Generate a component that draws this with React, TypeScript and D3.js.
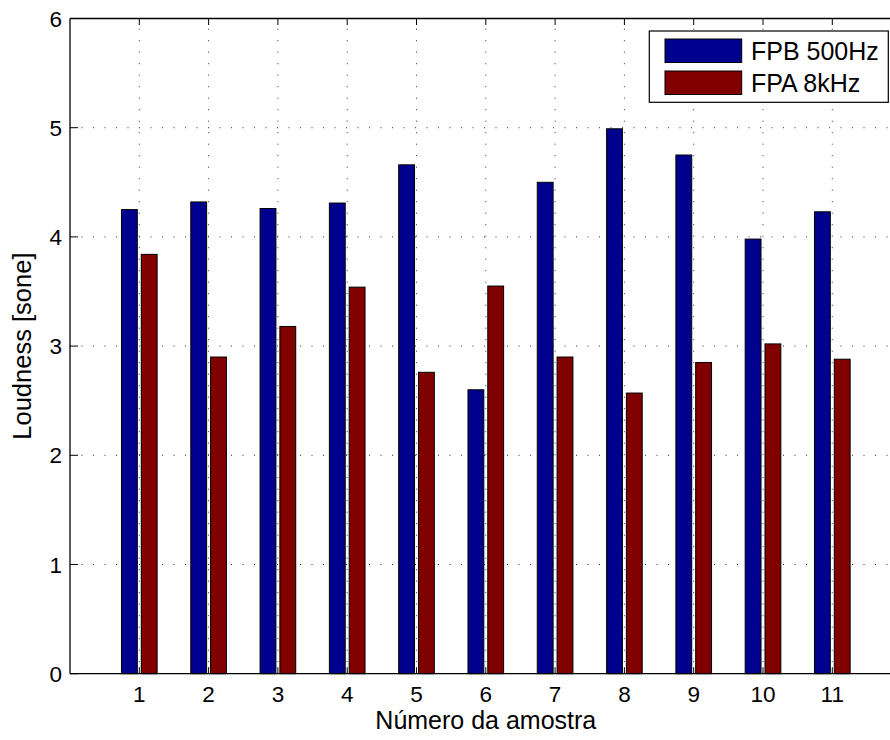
import React from "react";
import * as d3 from "d3";

// Sample numbers and the two filter series (loudness in sone)
const samples = [1, 2, 3, 4, 5, 6, 7, 8, 9, 10, 11];
const fpb500 = [4.25, 4.32, 4.26, 4.31, 4.66, 2.6, 4.5, 4.99, 4.75, 3.98, 4.23];
const fpa8k = [3.84, 2.9, 3.18, 3.54, 2.76, 3.55, 2.9, 2.57, 2.85, 3.02, 2.88];
const seriesNames = ["FPB 500Hz", "FPA 8kHz"];
const seriesColors = ["#00008f", "#800000"];
const yTicks = [0, 1, 2, 3, 4, 5, 6];

const W = 890;
const H = 740;
const left = 70;
const right = 901.6;
const top = 18.5;
const bottom = 673.7;

const FONT = "'Liberation Sans', Arial, Helvetica, sans-serif";

export default function App() {
  const x = d3.scaleLinear().domain([0, 12]).range([left, right]);
  const y = d3.scaleLinear().domain([0, 6]).range([bottom, top]);

  // Grouped bar geometry (two bars per sample)
  const groupWidth = Math.min(0.8, 2 / (2 + 1.5));
  const barW = (groupWidth / 2) * 0.8;
  const offsets = [-groupWidth / 4, groupWidth / 4];
  const series = [fpb500, fpa8k];

  const unit = x(1) - x(0);

  return (
    <svg
      width={W}
      height={H}
      style={{ position: "absolute", left: 0, top: 0, background: "#fff" }}
      fontFamily={FONT}
    >
      <rect x={0} y={0} width={W} height={H} fill="#fff" />

      {/* dotted grid */}
      <g stroke="#333" strokeWidth={1} strokeDasharray="1,10.5" fill="none">
        {samples.map((s) => (
          <line key={"gx" + s} x1={x(s)} x2={x(s)} y1={bottom} y2={top} />
        ))}
        {yTicks
          .filter((t) => t > 0 && t < 6)
          .map((t) => (
            <line key={"gy" + t} x1={left} x2={right} y1={y(t)} y2={y(t)} />
          ))}
      </g>

      {/* bars */}
      {series.map((vals, si) => (
        <g key={"s" + si} fill={seriesColors[si]} stroke="#000" strokeWidth={1}>
          {vals.map((v, i) => {
            const cx = x(samples[i] + offsets[si]);
            const w = barW * unit;
            return (
              <rect
                key={i}
                x={cx - w / 2}
                y={y(v)}
                width={w}
                height={y(0) - y(v)}
              />
            );
          })}
        </g>
      ))}

      {/* axes box and ticks */}
      <g stroke="#000" strokeWidth={1.3} fill="none">
        <line x1={left} x2={right} y1={bottom} y2={bottom} />
        <line x1={left} x2={right} y1={top} y2={top} />
        <line x1={left} x2={left} y1={top} y2={bottom} />
        <line x1={right} x2={right} y1={top} y2={bottom} />
      </g>
      <g stroke="#000" strokeWidth={1}>
        {samples.map((s) => (
          <g key={"tx" + s}>
            <line x1={x(s)} x2={x(s)} y1={bottom} y2={bottom - 6.5} />
            <line x1={x(s)} x2={x(s)} y1={top} y2={top + 6.5} />
          </g>
        ))}
        {yTicks.map((t) => (
          <g key={"ty" + t}>
            <line x1={left} x2={left + 8} y1={y(t)} y2={y(t)} />
            <line x1={right} x2={right - 8} y1={y(t)} y2={y(t)} />
          </g>
        ))}
      </g>

      {/* tick labels */}
      <g fontSize={22.5} fill="#000">
        {samples.map((s) => (
          <text key={"lx" + s} x={x(s)} y={702} textAnchor="middle">
            {s}
          </text>
        ))}
        {yTicks.map((t) => (
          <text
            key={"ly" + t}
            x={62}
            y={y(t)}
            dy="0.36em"
            textAnchor="end"
          >
            {t}
          </text>
        ))}
      </g>

      {/* axis titles */}
      <text
        x={(left + right) / 2}
        y={729}
        textAnchor="middle"
        fontSize={25}
        fill="#000"
      >
        Número da amostra
      </text>
      <text
        transform={`translate(31, ${(top + bottom) / 2}) rotate(-90)`}
        textAnchor="middle"
        fontSize={25.5}
        fill="#000"
      >
        Loudness [sone]
      </text>

      {/* legend */}
      <g>
        <rect x={649.3} y={31} width={239} height={71.3} fill="#fff" stroke="#000" strokeWidth={1.2} />
        {seriesNames.map((name, i) => (
          <g key={name}>
            <rect
              x={665}
              y={39 + i * 32}
              width={76.7}
              height={23.5}
              fill={seriesColors[i]}
              stroke="#000"
              strokeWidth={1}
            />
            <text x={751} y={60 + i * 32} fontSize={25} fill="#000">
              {name}
            </text>
          </g>
        ))}
      </g>
    </svg>
  );
}
